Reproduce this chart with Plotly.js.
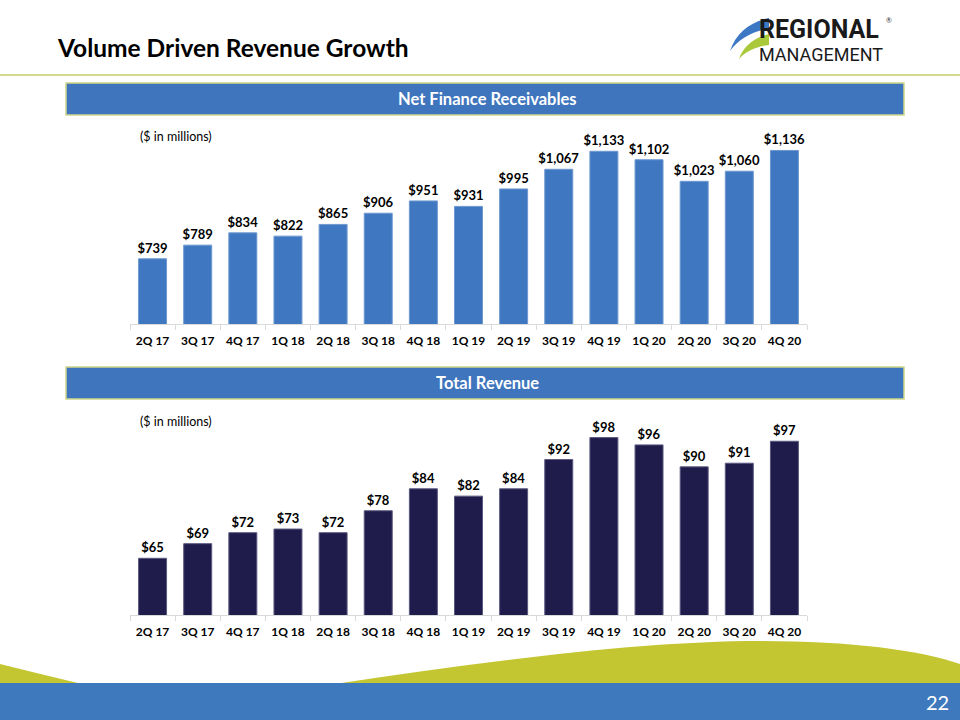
<!DOCTYPE html>
<html>
<head>
<meta charset="utf-8">
<script src="https://cdn.plot.ly/plotly-3.0.1.min.js"></script>
<style>html,body{margin:0;padding:0;background:#fff;}#chart{width:960px;height:720px;}</style>
</head>
<body>
<div id="chart"></div>
<script>
// ---- data ----
const quarters = ["2Q 17","3Q 17","4Q 17","1Q 18","2Q 18","3Q 18","4Q 18","1Q 19","2Q 19","3Q 19","4Q 19","1Q 20","2Q 20","3Q 20","4Q 20"];
const receivables = [739,789,834,822,865,906,951,931,995,1067,1133,1102,1023,1060,1136];
const revenue = [65,69,72,73,72,78,84,82,84,92,98,96,90,91,97];

const W = 960, H = 720;
const px = x => x / W;
const py = y => 1 - y / H;
function path(cmds){ // cmds: array of [letter, x1,y1, x2,y2, ...] in pixels
  return cmds.map(c => c[0] + ' ' + c.slice(1).map((v,i)=> i%2===0 ? px(v).toFixed(5) : py(v).toFixed(5)).join(' ')).join(' ');
}

const FONT = "Lato, 'Open Sans', sans-serif";
const BLUE = "#3f78c0";
const NAVY = "#1f1b4b";
const GREEN = "#c3c631";

const traces = [
  {type:'bar', x:quarters, y:receivables, xaxis:'x', yaxis:'y',
   marker:{color:BLUE, line:{color:'#6d98d0', width:1}},
   texttemplate:'$%{y:,}', textposition:'outside', cliponaxis:false, constraintext:'none',
   textfont:{family:FONT, size:13, color:'#000', weight:700}, hoverinfo:'skip'},
  {type:'bar', x:quarters, y:revenue, xaxis:'x2', yaxis:'y2',
   marker:{color:NAVY, line:{color:'#5a5880', width:1}},
   texttemplate:'$%{y}', textposition:'outside', cliponaxis:false, constraintext:'none',
   textfont:{family:FONT, size:13, color:'#000', weight:700}, hoverinfo:'skip'}
];

const xax = (anchor) => ({
  domain:[px(130), px(807)], anchor:anchor, type:'category',
  showline:true, linecolor:'#d9d9d9', linewidth:1,
  ticks:'outside', tickson:'boundaries', ticklen:5, tickcolor:'#d9d9d9',
  ticklabelstandoff:6,
  showgrid:false, zeroline:false, fixedrange:true,
  tickfont:{family:FONT, size:12, color:'#000', weight:700}
});

const shapes = [
  // line under title
  {type:'line', xref:'paper', yref:'paper', x0:0, x1:1, y0:py(75), y1:py(75), line:{color:'#d3da8a', width:2}},
  // header boxes
  {type:'rect', xref:'paper', yref:'paper', x0:px(66), x1:px(904), y0:py(115), y1:py(83), fillcolor:'#3e75bd', line:{color:'#cfd68a', width:1.5}},
  {type:'rect', xref:'paper', yref:'paper', x0:px(66), x1:px(904), y0:py(399), y1:py(367), fillcolor:'#3e75bd', line:{color:'#cfd68a', width:1.5}},
  // green wave
  {type:'path', xref:'paper', yref:'paper', line:{width:0}, fillcolor:GREEN,
   path: path([['M',0,664],['Q',40,674,82,684],['L',335,684],['C',480,662,640,641,760,641],['C',850,641,920,650,960,664],['L',960,684],['L',0,684],['Z']])},
  // blue footer band
  {type:'rect', xref:'paper', yref:'paper', x0:0, x1:1, y0:0, y1:py(683), fillcolor:'#3f79bd', line:{width:0}},
  // logo swooshes
  {type:'path', xref:'paper', yref:'paper', line:{width:0}, fillcolor:'#3d78c4',
   path: path([['M',730,51],['C',736,33,750,22,769,18],['L',769,29],['C',752,31,739,39,730,51],['Z']])},
  {type:'path', xref:'paper', yref:'paper', line:{width:0}, fillcolor:'#a9c93a',
   path: path([['M',739,59],['C',743,47,753,38,769,34],['L',769,45],['C',757,46,746,51,739,59],['Z']])}
];

const LOGOFONT = "Roboto, 'Liberation Sans', sans-serif";
const annotations = [
  {text:'<b>Volume Driven Revenue Growth</b>', xref:'paper', yref:'paper', x:px(55), y:py(48), xanchor:'left', yanchor:'middle', showarrow:false, font:{family:FONT, size:24.5, color:'#000'}},
  {text:'<b>Net Finance Receivables</b>', xref:'paper', yref:'paper', x:px(487), y:py(99), xanchor:'center', yanchor:'middle', showarrow:false, font:{family:FONT, size:16.5, color:'#fff'}},
  {text:'<b>Total Revenue</b>', xref:'paper', yref:'paper', x:px(487), y:py(383), xanchor:'center', yanchor:'middle', showarrow:false, font:{family:FONT, size:16.5, color:'#fff'}},
  {text:'($ in millions)', xref:'paper', yref:'paper', x:px(138), y:py(136), xanchor:'left', yanchor:'middle', showarrow:false, font:{family:FONT, size:12.5, color:'#000'}},
  {text:'($ in millions)', xref:'paper', yref:'paper', x:px(138), y:py(421), xanchor:'left', yanchor:'middle', showarrow:false, font:{family:FONT, size:12.5, color:'#000'}},
  {text:'22', xref:'paper', yref:'paper', x:px(951), y:py(702), xanchor:'right', yanchor:'middle', showarrow:false, font:{family:FONT, size:20, color:'#fff'}},
  // logo text
  {text:'<span style="font-size:25px"><b>REGIONAL</b></span><br><span style="font-size:18px">MANAGEMENT</span>', xref:'paper', yref:'paper', x:px(757), y:py(40), xanchor:'left', yanchor:'middle', align:'left', showarrow:false, font:{family:LOGOFONT, size:17.8, color:'#1a1a1a'}},
  {text:'®', xref:'paper', yref:'paper', x:px(889), y:py(20), xanchor:'center', yanchor:'middle', showarrow:false, font:{family:FONT, size:7, color:'#333'}}
];

const layout = {
  width:W, height:H, margin:{l:0,r:0,t:0,b:0},
  paper_bgcolor:'#fff', plot_bgcolor:'rgba(0,0,0,0)',
  showlegend:false, bargap:0.38,
  font:{family:FONT, color:'#000'},
  xaxis: xax('y'),
  yaxis:{domain:[py(324), py(133)], anchor:'x', range:[500,1200], visible:false, fixedrange:true},
  xaxis2: xax('y2'),
  yaxis2:{domain:[py(615), py(412)], anchor:'x2', range:[49.5,105], visible:false, fixedrange:true},
  shapes: shapes,
  annotations: annotations
};

Plotly.newPlot('chart', traces, layout, {displayModeBar:false, staticPlot:true});
</script>
</body>
</html>
